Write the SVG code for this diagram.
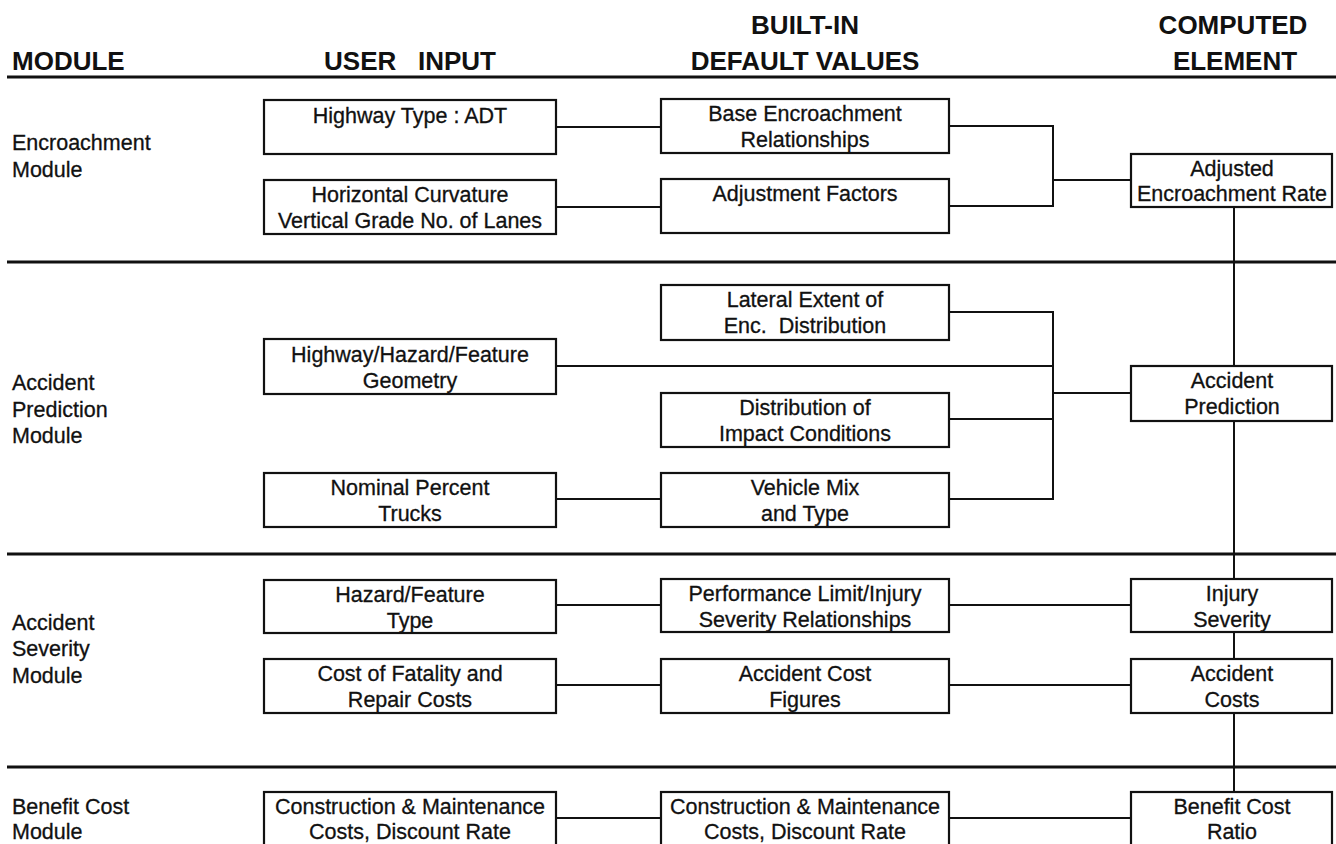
<svg xmlns="http://www.w3.org/2000/svg" width="1336" height="844" viewBox="0 0 1336 844">
<style>
.hdr{font-family:"Liberation Sans",Arial,Helvetica,sans-serif;font-weight:bold;font-size:26px;fill:#111}
.mid{text-anchor:middle}
.lbl{font-family:"Liberation Sans",Arial,Helvetica,sans-serif;font-size:21.5px;fill:#111;stroke:#111;stroke-width:0.3}
.bt{font-family:"Liberation Sans",Arial,Helvetica,sans-serif;font-size:21.5px;fill:#111;stroke:#111;stroke-width:0.3;text-anchor:middle}
.box{fill:#fff;stroke:#111;stroke-width:2.2}
.sep{stroke:#111;stroke-width:3.2;fill:none}
.con{stroke:#111;stroke-width:2;fill:none}
</style>
<rect width="1336" height="844" fill="#fff"/>

<g id="headers">
<text class="hdr" x="12" y="70">MODULE</text>
<text class="hdr mid" x="410" y="70" xml:space="preserve">USER   INPUT</text>
<text class="hdr mid" x="805" y="34">BUILT-IN</text>
<text class="hdr mid" x="805" y="70">DEFAULT VALUES</text>
<text class="hdr mid" x="1233" y="34">COMPUTED</text>
<text class="hdr mid" x="1235" y="70">ELEMENT</text>
</g>

<g id="separators">
<line class="sep" x1="7" y1="77" x2="1336" y2="77"/>
<line class="sep" x1="7" y1="262" x2="1336" y2="262"/>
<line class="sep" x1="7" y1="554" x2="1336" y2="554"/>
<line class="sep" x1="7" y1="767" x2="1336" y2="767"/>
</g>

<g id="module-labels">
<text class="lbl" x="12" y="150">Encroachment</text>
<text class="lbl" x="12" y="177">Module</text>
<text class="lbl" x="12" y="390">Accident</text>
<text class="lbl" x="12" y="417">Prediction</text>
<text class="lbl" x="12" y="443">Module</text>
<text class="lbl" x="12" y="630">Accident</text>
<text class="lbl" x="12" y="656">Severity</text>
<text class="lbl" x="12" y="683">Module</text>
<text class="lbl" x="12" y="814">Benefit Cost</text>
<text class="lbl" x="12" y="839">Module</text>
</g>

<g id="connectors">
<path class="con" d="M556 127H661"/>
<path class="con" d="M556 207H661"/>
<path class="con" d="M949 126H1053V206H949"/>
<path class="con" d="M1053 180H1131"/>
<path class="con" d="M949 312H1053V499H949"/>
<path class="con" d="M556 366H1053"/>
<path class="con" d="M949 419H1053"/>
<path class="con" d="M556 499H661"/>
<path class="con" d="M1053 393H1131"/>
<path class="con" d="M556 605H661"/>
<path class="con" d="M949 605H1131"/>
<path class="con" d="M556 685H661"/>
<path class="con" d="M949 685H1131"/>
<path class="con" d="M556 818H661"/>
<path class="con" d="M949 818H1131"/>
<path class="con" d="M1234 207V366"/>
<path class="con" d="M1234 421V579"/>
<path class="con" d="M1234 632V659"/>
<path class="con" d="M1234 713V792"/>
</g>

<g id="u-highway-type">
<rect class="box" x="264" y="100" width="292" height="54"/>
<text class="bt" x="410" y="123">Highway Type : ADT</text>
</g>
<g id="u-curvature">
<rect class="box" x="264" y="180" width="292" height="54"/>
<text class="bt" x="410" y="202">Horizontal Curvature</text>
<text class="bt" x="410" y="228">Vertical Grade No. of Lanes</text>
</g>
<g id="d-base-encroachment">
<rect class="box" x="661" y="99" width="288" height="54"/>
<text class="bt" x="805" y="121">Base Encroachment</text>
<text class="bt" x="805" y="147">Relationships</text>
</g>
<g id="d-adjustment">
<rect class="box" x="661" y="179" width="288" height="54"/>
<text class="bt" x="805" y="201">Adjustment Factors</text>
</g>
<g id="c-adjusted-rate">
<rect class="box" x="1131" y="154" width="201" height="53"/>
<text class="bt" x="1232" y="176">Adjusted</text>
<text class="bt" x="1232" y="201">Encroachment Rate</text>
</g>

<g id="d-lateral-extent">
<rect class="box" x="661" y="285" width="288" height="55"/>
<text class="bt" x="805" y="307">Lateral Extent of</text>
<text class="bt" x="805" y="333" xml:space="preserve">Enc.  Distribution</text>
</g>
<g id="u-geometry">
<rect class="box" x="264" y="339" width="292" height="55"/>
<text class="bt" x="410" y="362">Highway/Hazard/Feature</text>
<text class="bt" x="410" y="388">Geometry</text>
</g>
<g id="d-impact">
<rect class="box" x="661" y="393" width="288" height="54"/>
<text class="bt" x="805" y="415">Distribution of</text>
<text class="bt" x="805" y="441">Impact Conditions</text>
</g>
<g id="u-trucks">
<rect class="box" x="264" y="473" width="292" height="54"/>
<text class="bt" x="410" y="495">Nominal Percent</text>
<text class="bt" x="410" y="521">Trucks</text>
</g>
<g id="d-vehicle-mix">
<rect class="box" x="661" y="473" width="288" height="54"/>
<text class="bt" x="805" y="495">Vehicle Mix</text>
<text class="bt" x="805" y="521">and Type</text>
</g>
<g id="c-accident-prediction">
<rect class="box" x="1131" y="366" width="201" height="55"/>
<text class="bt" x="1232" y="388">Accident</text>
<text class="bt" x="1232" y="414">Prediction</text>
</g>

<g id="u-hazard-type">
<rect class="box" x="264" y="580" width="292" height="53"/>
<text class="bt" x="410" y="602">Hazard/Feature</text>
<text class="bt" x="410" y="628">Type</text>
</g>
<g id="d-performance">
<rect class="box" x="661" y="579" width="288" height="53"/>
<text class="bt" x="805" y="601">Performance Limit/Injury</text>
<text class="bt" x="805" y="627">Severity Relationships</text>
</g>
<g id="c-injury-severity">
<rect class="box" x="1131" y="579" width="201" height="53"/>
<text class="bt" x="1232" y="601">Injury</text>
<text class="bt" x="1232" y="627">Severity</text>
</g>
<g id="u-fatality-cost">
<rect class="box" x="264" y="659" width="292" height="54"/>
<text class="bt" x="410" y="681">Cost of Fatality and</text>
<text class="bt" x="410" y="707">Repair Costs</text>
</g>
<g id="d-accident-cost">
<rect class="box" x="661" y="659" width="288" height="54"/>
<text class="bt" x="805" y="681">Accident Cost</text>
<text class="bt" x="805" y="707">Figures</text>
</g>
<g id="c-accident-costs">
<rect class="box" x="1131" y="659" width="201" height="54"/>
<text class="bt" x="1232" y="681">Accident</text>
<text class="bt" x="1232" y="707">Costs</text>
</g>

<g id="u-construction">
<rect class="box" x="264" y="792" width="292" height="60"/>
<text class="bt" x="410" y="814">Construction &amp; Maintenance</text>
<text class="bt" x="410" y="839">Costs, Discount Rate</text>
</g>
<g id="d-construction">
<rect class="box" x="661" y="792" width="288" height="60"/>
<text class="bt" x="805" y="814">Construction &amp; Maintenance</text>
<text class="bt" x="805" y="839">Costs, Discount Rate</text>
</g>
<g id="c-benefit-cost">
<rect class="box" x="1131" y="792" width="201" height="60"/>
<text class="bt" x="1232" y="814">Benefit Cost</text>
<text class="bt" x="1232" y="839">Ratio</text>
</g>
</svg>
